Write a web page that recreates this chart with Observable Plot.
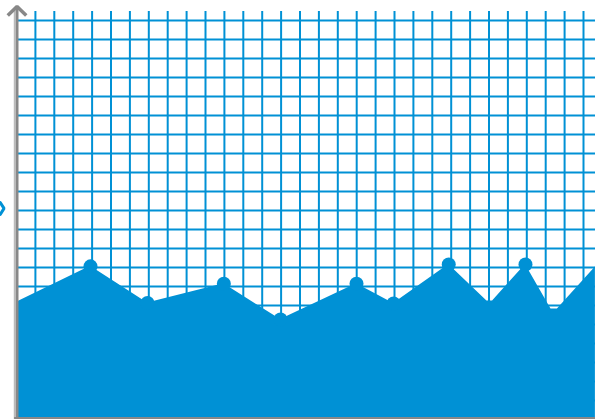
<!DOCTYPE html>
<html>
<head>
<meta charset="utf-8">
<script src="https://cdn.jsdelivr.net/npm/d3@7"></script>
<script src="https://cdn.jsdelivr.net/npm/@observablehq/plot@0.6"></script>
<style>
  html, body { margin: 0; padding: 0; background: #fff; }
  #chart svg { display: block; }
</style>
</head>
<body>
<div id="chart"></div>
<script>
// Series values (grid units: 1 unit = one grid cell)
const xs = [0, 3.915, 6.93, 10.97, 13.97, 17.99, 19.95, 22.87, 24.89, 25.19, 26.93, 28.28, 28.62, 30.63];
const ys = [6.17, 8.06, 6.13, 7.14, 5.26, 7.14, 6.11, 8.16, 6.24, 6.24, 8.16, 5.82, 5.82, 8.03];
const markedIdx = [1, 2, 3, 4, 5, 6, 7, 10];

// Grid tick positions
const gridX = d3.range(1, 31);
const gridY = d3.range(1, 22);

const series = xs.map((x, i) => ({x, y: ys[i]}));
const marked = markedIdx.map(i => series[i]);

// Decorations: arrow head on y axis and small marker on the left
const arrowHead = [{x: -0.49, y: 21.26}, {x: 0, y: 21.74}, {x: 0.49, y: 21.26}];
const leftMarker = [{x: -0.86, y: 11.42}, {x: -0.66, y: 11.11}, {x: -0.86, y: 10.79}];

const blue = "#0091d5";
const gray = "#888888";

const chart = Plot.plot({
  width: 595,
  height: 419,
  margin: 0,
  x: {domain: [-0.847, 30.635], axis: null},
  y: {domain: [0, 22.05], axis: null},
  marks: [
    Plot.ruleX(gridX, {y1: 0, y2: 21.47, stroke: blue, strokeWidth: 2}),
    Plot.ruleY(gridY, {x1: 0, x2: 30.7, stroke: blue, strokeWidth: 2}),
    Plot.areaY(series, {x: "x", y: "y", fill: blue, curve: "linear"}),
    Plot.dot(marked, {x: "x", y: "y", r: 7, fill: blue}),
    Plot.ruleX([0], {y1: 0, y2: 21.6, stroke: "#bbbbbb", strokeWidth: 1.5, dx: -2}),
    Plot.ruleX([0], {y1: 0, y2: 21.6, stroke: gray, strokeWidth: 3, dx: 0.5}),
    Plot.ruleY([0], {x1: -0.1, x2: 30.7, stroke: gray, strokeWidth: 3, dy: -1}),
    Plot.line(arrowHead, {x: "x", y: "y", stroke: gray, strokeWidth: 3.5, strokeLinejoin: "miter", strokeLinecap: "butt", dx: 0.5}),
    Plot.line(leftMarker, {x: "x", y: "y", stroke: blue, strokeWidth: 3, strokeLinejoin: "miter"})
  ]
});
document.getElementById("chart").appendChild(chart);
</script>
</body>
</html>
